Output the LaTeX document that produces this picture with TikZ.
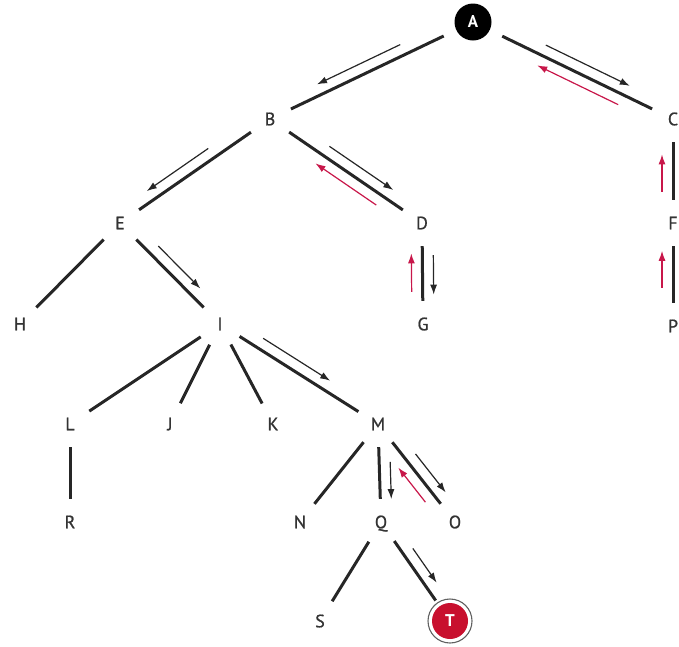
\documentclass[tikz,border=0pt]{standalone}
\usepackage{fontspec}
\setmainfont{PT Sans}
\newfontfamily\labfont{PT Sans}[FakeBold=0.9]
\usetikzlibrary{calc,arrows.meta}
\definecolor{edgecol}{HTML}{262626}
\definecolor{labcol}{HTML}{333333}
\definecolor{travred}{HTML}{C8174A}
\definecolor{goalred}{HTML}{C8102E}
\definecolor{ringcol}{HTML}{606060}
\newcommand\travarrow[6]{\draw[#1] ($(#2)!#4!(#3)!11pt!#6:(#3)$) -- ($(#2)!#5!(#3)!11pt!#6:(#3)$);}
\begin{document}
\begin{tikzpicture}[x=1pt,y=-1pt,
  lab/.style={circle, minimum size=46pt, inner sep=0pt, text height=12.6pt, text depth=0pt,
              font=\labfont\fontsize{18}{18}\selectfont, text=labcol},
  edge/.style={draw=edgecol, line width=3pt},
  blk/.style={draw=edgecol, line width=1.2pt, -{Latex[length=10pt,width=7pt]}},
  redarr/.style={draw=travred, line width=1.2pt, -{Latex[length=10pt,width=7pt]}}]
\useasboundingbox (0,0) rectangle (679,646);
% nodes
\node[circle, fill=black, minimum size=37pt, inner sep=0pt, outer sep=14pt,
      text=white, font=\fontsize{17}{17}\selectfont\bfseries] (A) at (473,22) {A};
\node[lab] (B) at (270,119) {B};
\node[lab] (C) at (673,119) {C};
\node[lab] (E) at (120,223) {E};
\node[lab] (D) at (422,223) {D};
\node[lab] (F) at (673,223) {F};
\node[lab] (H) at (20,324) {H};
\node[lab] (I) at (220,324) {I};
\node[lab] (G) at (423,324) {G};
\node[lab] (P) at (673,326) {P};
\node[lab] (L) at (70,424) {L};
\node[lab] (J) at (170,424) {J};
\node[lab] (K) at (273,424) {K};
\node[lab] (M) at (378,424) {M};
\node[lab] (R) at (70,522) {R};
\node[lab] (N) at (300,522) {N};
\node[lab] (Q) at (381,522) {Q};
\node[lab] (O) at (455,522) {O};
\node[lab] (S) at (320,621) {S};
\node[circle, fill=goalred, minimum size=36pt, inner sep=0pt, outer sep=7pt,
      text=white, font=\fontsize{17}{17}\selectfont\bfseries] (T) at (450,621) {T};
\draw[ringcol, line width=1.1pt] (T.center) circle (22pt);
% edges
\draw[edge] (A) -- (B);
\draw[edge] (A) -- (C);
\draw[edge] (B) -- (E);
\draw[edge] (B) -- (D);
\draw[edge] (C) -- (F);
\draw[edge] (E) -- (H);
\draw[edge] (E) -- (I);
\draw[edge] (D) -- (G);
\draw[edge] (F) -- (P);
\draw[edge] (I) -- (L);
\draw[edge] (I) -- (J);
\draw[edge] (I) -- (K);
\draw[edge] (I) -- (M);
\draw[edge] (L) -- (R);
\draw[edge] (M) -- (N);
\draw[edge] (M) -- (Q);
\draw[edge] (M) -- (O);
\draw[edge] (Q) -- (S);
\draw[edge] (Q) -- (T);
% traversal arrows
\travarrow{blk}{A}{B}{0.335}{0.745}{-90}
\travarrow{blk}{A}{C}{0.34}{0.76}{90}
\travarrow{redarr}{A}{C}{0.75}{0.345}{-90}
\travarrow{blk}{B}{E}{0.37}{0.78}{-90}
\travarrow{blk}{B}{D}{0.35}{0.77}{90}
\travarrow{redarr}{B}{D}{0.74}{0.34}{-90}
\travarrow{blk}{E}{I}{0.305}{0.725}{90}
\travarrow{blk}{D}{G}{0.32}{0.71}{90}
\travarrow{redarr}{D}{G}{0.68}{0.30}{-90}
\travarrow{blk}{C}{F}{0.32}{0.74}{90}
\travarrow{redarr}{C}{F}{0.70}{0.34}{-90}
\travarrow{blk}{F}{P}{0.30}{0.70}{90}
\travarrow{redarr}{F}{P}{0.63}{0.27}{-90}
\travarrow{blk}{I}{M}{0.236}{0.66}{90}
\travarrow{blk}{M}{Q}{0.39}{0.77}{90}
\travarrow{blk}{M}{O}{0.375}{0.767}{90}
\travarrow{redarr}{M}{O}{0.728}{0.376}{-90}
\travarrow{blk}{Q}{T}{0.33}{0.676}{90}
\end{tikzpicture}
\end{document}
